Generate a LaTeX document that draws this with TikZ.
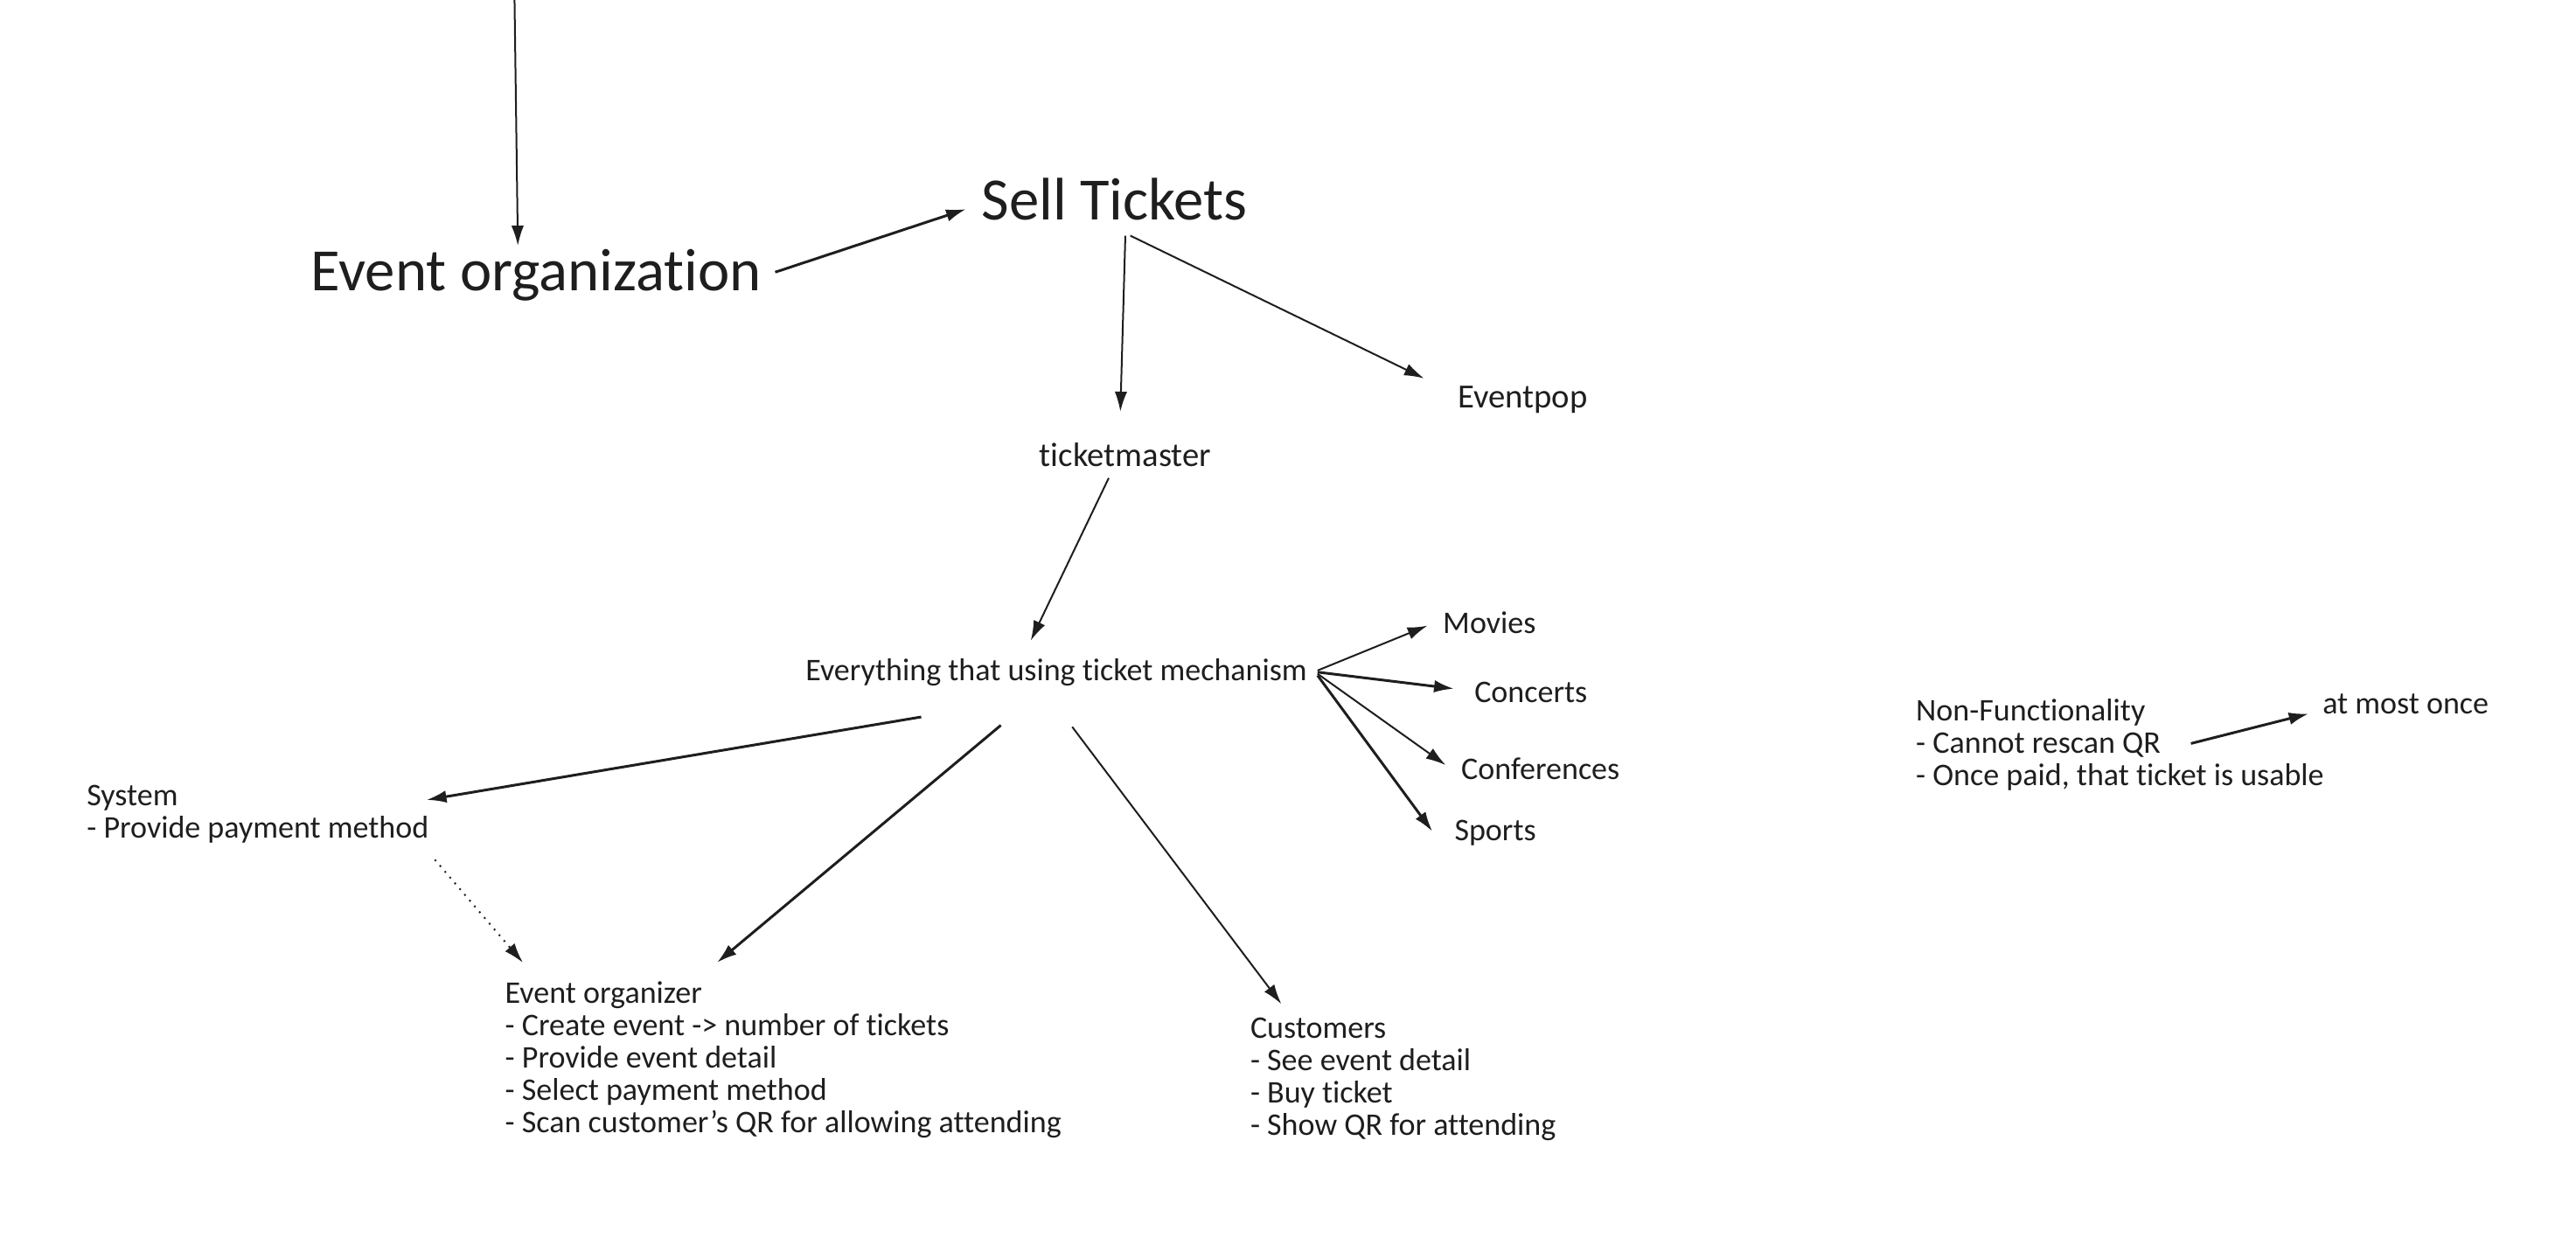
\documentclass[tikz,border=0pt]{standalone}
\usepackage{fontspec}
\setmainfont{Carlito}[Ligatures={NoCommon}]
\usetikzlibrary{arrows.meta,calc,positioning}
\definecolor{ink}{HTML}{1E1E1E}
\begin{document}
\begin{tikzpicture}[x=0.2mm,y=-0.2mm,color=ink,
  txt/.style={inner sep=0pt,font=\fontsize{10.8}{11.1}\selectfont,align=left},
  mid/.style={inner sep=0pt,font=\fontsize{11.6}{13}\selectfont},
  big/.style={inner sep=0pt,font=\fontsize{20.6}{24}\selectfont},
  arr/.style={-{Latex[length=2.4mm,width=1.5mm]},line width=0.6pt},
  thk/.style={arr,line width=0.9pt}]

  \useasboundingbox (0,0) rectangle (1552,750);

  % top part
  \coordinate (top) at (310,0);
  \node[big,anchor=west] (evorg) at (187,166) {Event organization};
  \node[big,anchor=west] (sell) at (591,120) {Sell Tickets};
  \node[mid,anchor=west] (tm) at (626,274) {ticketmaster};
  \node[mid,anchor=west] (epop) at (878,241) {Eventpop};
  \node[txt,anchor=west] (mech) at (485,405) {Everything that using ticket mechanism};

  % kinds of events
  \node[txt,anchor=west] (movies) at (869,375) {Movies};
  \node[txt,anchor=west] (concerts) at (888,417) {Concerts};
  \node[txt,anchor=west] (conf) at (880,463) {Conferences};
  \node[txt,anchor=west] (sports) at (876,502) {Sports};

  % actors
  \node[txt,anchor=north west] (sys) at (52,473) {System\\- Provide payment method};
  \node[txt,anchor=north west] (org) at (304,591) {Event organizer\\- Create event -> number of tickets\\- Provide event detail\\- Select payment method\\- Scan customer's QR for allowing attending};
  \node[txt,anchor=north west] (cust) at (753,613) {Customers\\- See event detail\\- Buy ticket\\- Show QR for attending};
  \node[txt,anchor=north west] (nonf) at (1154,421) {Non-Functionality\\- Cannot rescan QR\\- Once paid, that ticket is usable};
  \node[txt,anchor=west] (once) at (1399,424) {at most once};

  \draw[arr] (top) -- ($(evorg.west)+(125,-18)$);
  \draw[thk] ($(evorg.east)+(8,-2)$) -- ($(sell.west)+(-9,6)$);
  \draw[arr] ($(sell.west)+(87,22)$) -- ($(tm.west)+(49,-26)$);
  \draw[arr] ($(sell.west)+(90,22)$) -- ($(epop.west)+(-20,-13)$);
  \draw[arr] ($(tm.west)+(42,14)$) -- ($(mech.west)+(136,-19)$);

  \draw[arr] ($(mech.east)+(6,-1)$) -- ($(movies.west)+(-9,2)$);
  \draw[thk] ($(mech.east)+(6,0)$) -- ($(concerts.west)+(-12,-2)$);
  \draw[arr] ($(mech.east)+(6,1)$) -- ($(conf.west)+(-9,-2)$);
  \draw[thk] ($(mech.east)+(6,2)$) -- ($(sports.west)+(-13,-1)$);

  \draw[thk] ($(mech.west)+(70,27)$) -- ($(sys.north west)+(205,9)$);
  \draw[thk] ($(mech.west)+(118,32)$) -- ($(org.north west)+(128,-11)$);
  \draw[arr] ($(mech.west)+(161,33)$) -- ($(cust.north west)+(19,-8)$);
  \draw[arr,dotted] ($(sys.north west)+(210,45)$) -- ($(org.north west)+(11,-11)$);

  \draw[thk] ($(nonf.north west)+(166,27)$) -- ($(once.west)+(-8,6)$);

\end{tikzpicture}
\end{document}
